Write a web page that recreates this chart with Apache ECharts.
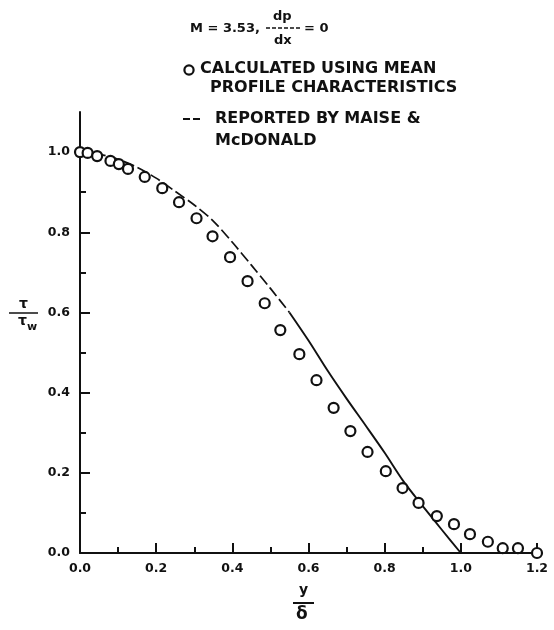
<!DOCTYPE html>
<html>
<head>
<meta charset="utf-8">
<script src="https://cdn.jsdelivr.net/npm/echarts@6/dist/echarts.min.js"></script>
<style>
html,body{margin:0;padding:0;background:#fff;}
#chart{width:554px;height:630px;}
</style>
</head>
<body>
<div id="chart"></div>
<script>
// Calculated using mean profile characteristics (circles)
const calcX = [0, 0.02, 0.045, 0.08, 0.102, 0.126, 0.17, 0.216, 0.26, 0.306, 0.348, 0.394, 0.44, 0.485, 0.526, 0.576, 0.621, 0.666, 0.71, 0.755, 0.803, 0.847, 0.889, 0.937, 0.982, 1.024, 1.071, 1.11, 1.15, 1.2];
const calcY = [1.0, 0.998, 0.99, 0.978, 0.97, 0.958, 0.938, 0.91, 0.875, 0.835, 0.79, 0.738, 0.678, 0.623, 0.556, 0.496, 0.431, 0.362, 0.304, 0.252, 0.204, 0.162, 0.125, 0.092, 0.072, 0.047, 0.028, 0.012, 0.012, 0.0];
// Reported by Maise & McDonald (line)
const refX = [0, 0.05, 0.1, 0.15, 0.2, 0.25, 0.3, 0.35, 0.4, 0.45, 0.5, 0.55, 0.6, 0.65, 0.7, 0.75, 0.8, 0.85, 0.9, 0.95, 1.0];
const refY = [1.0, 0.995, 0.982, 0.962, 0.935, 0.902, 0.868, 0.828, 0.775, 0.718, 0.66, 0.6, 0.53, 0.455, 0.385, 0.318, 0.25, 0.178, 0.117, 0.058, 0.0];
// Axis ticks
const xMajor = [0, 0.2, 0.4, 0.6, 0.8, 1.0, 1.2];
const xMinor = [0.1, 0.3, 0.5, 0.7, 0.9, 1.1];
const yMajor = [0, 0.2, 0.4, 0.6, 0.8, 1.0];
const yMinor = [0.1, 0.3, 0.5, 0.7, 0.9];

const calcData = calcX.map((x, i) => [x, calcY[i]]);
const refData = refX.map((x, i) => [x, refY[i]]);
const splitIdx = refX.indexOf(0.55);
const refDashed = refData.slice(0, splitIdx + 1);
const refSolid = refData.slice(splitIdx);

const FONT = 'DejaVu Sans';
const INK = '#111';

function majorAxis(min, max, ticks, extra) {
  return Object.assign({
    type: 'value', min: min, max: max,
    axisLine: { show: true, onZero: false, lineStyle: { color: INK, width: 2 } },
    axisTick: { show: true, inside: true, length: 10, customValues: ticks, lineStyle: { color: INK, width: 2 } },
    axisLabel: { show: true, customValues: ticks, formatter: v => v.toFixed(1), color: INK,
      fontFamily: FONT, fontWeight: 'bold', fontSize: 12 },
    splitLine: { show: false }
  }, extra);
}
function minorAxis(min, max, ticks, extra) {
  return Object.assign({
    type: 'value', min: min, max: max,
    axisLine: { show: false, onZero: false },
    axisTick: { show: true, inside: true, length: 6, customValues: ticks, lineStyle: { color: INK, width: 2 } },
    axisLabel: { show: false },
    splitLine: { show: false }
  }, extra);
}

const chart = echarts.init(document.getElementById('chart'), null, { renderer: 'canvas' });
chart.setOption({
  backgroundColor: '#ffffff',
  animation: false,
  grid: { left: 80, right: 17, top: 112, bottom: 77, containLabel: false },
  xAxis: [
    majorAxis(0, 1.2, xMajor, { position: 'bottom', axisLabel: { show: true, customValues: xMajor, formatter: v => v.toFixed(1), color: INK, fontFamily: FONT, fontWeight: 'bold', fontSize: 12.5, margin: 9 } }),
    minorAxis(0, 1.2, xMinor, { position: 'bottom' })
  ],
  yAxis: [
    majorAxis(0, 1.1, yMajor, { position: 'left', axisLabel: { show: true, customValues: yMajor, formatter: v => v.toFixed(1), color: INK, fontFamily: FONT, fontWeight: 'bold', fontSize: 12.5, margin: 10 } }),
    minorAxis(0, 1.1, yMinor, { position: 'left' })
  ],
  series: [
    {
      name: 'Reported by Maise & McDonald (dashed)', type: 'line', data: refDashed,
      xAxisIndex: 0, yAxisIndex: 0, symbol: 'none', smooth: 0.3, clip: false,
      lineStyle: { color: INK, width: 1.7, type: [11, 4] }, z: 2
    },
    {
      name: 'Reported by Maise & McDonald', type: 'line', data: refSolid,
      xAxisIndex: 0, yAxisIndex: 0, symbol: 'none', smooth: 0.3, clip: false,
      lineStyle: { color: INK, width: 1.9 }, z: 2
    },
    {
      name: 'Calculated using mean profile characteristics', type: 'scatter', data: calcData,
      xAxisIndex: 0, yAxisIndex: 0, symbol: 'circle', symbolSize: 10, clip: false,
      itemStyle: { color: '#ffffff', borderColor: INK, borderWidth: 2.2, opacity: 1 }, z: 3
    }
  ],
  graphic: [
    // title: M = 3.53, dp/dx = 0
    { type: 'text', left: 190, top: 22, style: { text: 'M = 3.53,', fill: INK, font: 'bold 13px "DejaVu Sans"' } },
    { type: 'text', left: 273, top: 10, style: { text: 'dp', fill: INK, font: 'bold 13px "DejaVu Sans"' } },
    { type: 'line', shape: { x1: 266, y1: 28, x2: 300, y2: 28 }, style: { stroke: INK, lineWidth: 1.5, lineDash: [4, 2] } },
    { type: 'text', left: 274, top: 34, style: { text: 'dx', fill: INK, font: 'bold 13px "DejaVu Sans"' } },
    { type: 'text', left: 304, top: 22, style: { text: '= 0', fill: INK, font: 'bold 13px "DejaVu Sans"' } },
    // legend
    { type: 'circle', shape: { cx: 189, cy: 70, r: 4.6 }, style: { fill: '#fff', stroke: INK, lineWidth: 2.2 } },
    { type: 'text', left: 200, top: 61, style: { text: 'CALCULATED USING MEAN', fill: INK, font: 'bold 16px "DejaVu Sans"' } },
    { type: 'text', left: 210, top: 80, style: { text: 'PROFILE CHARACTERISTICS', fill: INK, font: 'bold 16px "DejaVu Sans"' } },
    { type: 'line', shape: { x1: 183, y1: 119, x2: 200, y2: 119 }, style: { stroke: INK, lineWidth: 2, lineDash: [7, 3] } },
    { type: 'text', left: 215, top: 111, style: { text: 'REPORTED BY MAISE &', fill: INK, font: 'bold 16px "DejaVu Sans"' } },
    { type: 'text', left: 215, top: 133, style: { text: 'McDONALD', fill: INK, font: 'bold 16px "DejaVu Sans"' } },
    // y axis name: tau / tau_w
    { type: 'text', left: 19, top: 297, style: { text: 'τ', fill: INK, font: 'bold 14px "DejaVu Sans"' } },
    { type: 'line', shape: { x1: 9, y1: 313, x2: 38, y2: 313 }, style: { stroke: INK, lineWidth: 1.5 } },
    { type: 'text', left: 18, top: 314, style: { text: 'τ', fill: INK, font: 'bold 14px "DejaVu Sans"' } },
    { type: 'text', left: 27, top: 322, style: { text: 'w', fill: INK, font: 'bold 11px "DejaVu Sans"' } },
    // x axis name: y / delta
    { type: 'text', left: 299, top: 583, style: { text: 'y', fill: INK, font: 'bold 14px "DejaVu Sans"' } },
    { type: 'line', shape: { x1: 293, y1: 603, x2: 314, y2: 603 }, style: { stroke: INK, lineWidth: 2 } },
    { type: 'text', left: 296, top: 606, style: { text: 'δ', fill: INK, font: 'bold 17px "DejaVu Sans"' } }
  ]
});
</script>
</body>
</html>
